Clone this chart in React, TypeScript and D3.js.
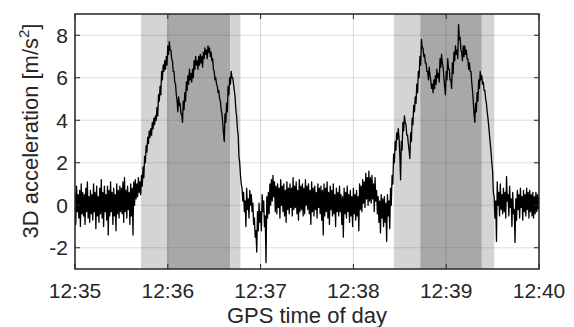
import React from "react";
import * as d3 from "d3";

// ---- data: per-second maximum and minimum of the 3D acceleration (m/s²),
// seconds after 12:35:00 ----
const accelHigh: number[] = [
  0.6, 0.9, 0.5, 0.7, 1.0, 0.6, 0.5, 0.8, 1.1, 0.4,
  0.7, 0.5, 1.0, 0.6, 0.9, 0.4, 0.8, 1.2, 0.6, 0.9,
  0.5, 0.9, 0.7, 1.1, 0.6, 0.8, 0.5, 1.0, 0.7, 0.9,
  0.8, 1.1, 1.3, 0.7, 0.9, 0.6, 1.0, 0.8, 1.1, 1.2,
  1.0, 1.3, 1.1, 1.4, 1.8, 2.3, 2.8, 3.2, 3.5, 3.6,
  3.9, 4.1, 4.2, 4.6, 5.2, 5.6, 6.3, 6.6, 6.8, 7.0,
  7.5, 7.7, 7.3, 6.8, 6.3, 5.7, 4.9, 5.1, 4.8, 4.3,
  4.9, 5.3, 5.8, 6.1, 6.4, 6.2, 6.4, 6.8, 7.0, 6.8,
  7.0, 7.1, 7.0, 7.2, 7.4, 7.3, 7.5, 7.4, 7.2, 6.9,
  6.3, 6.0, 5.6, 5.4, 4.9, 4.3, 3.4, 4.3, 4.8, 5.6,
  6.0, 6.3, 6.0, 5.4, 4.5, 3.6, 2.3, 1.4, 0.8, 0.6,
  0.2, 0.8, 0.3, 0.7, 0.5, 0.1, -0.6, -1.2, -0.3, 0.1,
  -0.3, 0.5, 0.2, -0.5, 0.4, 0.6, 1.0, 1.2, 1.4, 1.1,
  0.9, 1.0, 0.8, 1.2, 0.9, 1.0, 0.7, 1.1, 0.8, 1.0,
  0.8, 1.3, 0.9, 1.1, 0.7, 1.2, 0.9, 1.0, 0.8, 1.2,
  0.9, 1.0, 0.7, 1.1, 0.8, 0.9, 0.6, 1.0, 0.8, 0.9,
  0.7, 1.0, 0.8, 1.1, 0.6, 0.9, 0.7, 1.0, 0.5, 0.8,
  0.6, 0.9, 0.5, 0.4, 0.8, 0.6, 0.9, 0.5, 0.7, 0.4,
  0.8, 0.5, 0.7, 0.4, 1.0, 0.9, 1.2, 1.1, 1.5, 1.3,
  1.6, 1.3, 1.4, 1.0, 1.3, 0.7, 0.4, 0.2, 0.5, 0.3,
  0.4, 0.1, 0.5, 0.2, 0.8, 1.4, 2.4, 3.0, 3.4, 3.6,
  2.4, 3.0, 3.9, 4.2, 3.8, 3.3, 2.6, 3.4, 4.1, 4.7,
  5.1, 5.7, 6.3, 7.0, 7.8, 7.4, 7.1, 6.7, 6.3, 6.5,
  5.9, 5.7, 5.9, 6.1, 6.4, 6.2, 6.9, 7.1, 6.5, 5.6,
  6.3, 6.9, 6.4, 5.9, 6.7, 7.2, 7.5, 7.3, 8.5, 7.9,
  7.2, 7.5, 7.5, 7.3, 6.9, 6.7, 6.3, 5.4, 4.3, 4.8,
  5.3, 5.9, 6.3, 6.1, 5.8, 5.4, 4.8, 4.1, 3.3, 2.5,
  1.6, 0.4, 0.2, 1.1, 0.6, 1.0, 0.5, 0.8, 0.6, 1.35,
  0.5, 0.9, 0.3, 0.6, -0.2, 0.3, 0.7, 0.5, 0.8, 0.4,
  0.7, 0.5, 0.8, 0.6, 0.7, 0.5, 0.6, 0.4, 0.6, 0.5,
  0.4,
];
const accelLow: number[] = [
  -0.9, -0.3, -0.6, -1.0, -0.4, -0.5, -0.9, -0.3, -0.6, -0.8,
  -0.4, -0.7, -0.3, -1.1, -0.5, -0.8, -0.4, -0.6, -1.0, -0.3,
  -0.7, -1.4, -0.5, -0.3, -0.9, -0.5, -1.2, -0.4, -0.6, -0.3,
  -0.4, -0.8, -0.3, -0.6, -0.2, -0.9, -0.5, -1.4, 0.0, 0.3,
  0.4, 0.6, 0.5, 0.9, 1.3, 2.0, 2.5, 2.9, 3.2, 3.3,
  3.6, 3.8, 4.0, 4.2, 4.9, 5.2, 5.9, 6.3, 6.4, 6.6,
  7.1, 7.3, 6.9, 6.3, 5.8, 5.2, 4.4, 4.7, 4.3, 3.9,
  4.5, 4.9, 5.4, 5.7, 5.9, 5.8, 6.0, 6.4, 6.6, 6.4,
  6.6, 6.7, 6.5, 6.9, 7.1, 6.9, 7.2, 7.0, 6.8, 6.4,
  5.9, 5.7, 5.3, 5.0, 4.5, 3.9, 3.0, 3.9, 4.4, 5.2,
  5.7, 6.0, 5.7, 5.1, 4.2, 3.3, 2.0, 1.0, 0.2, -0.3,
  -1.0, -0.2, -0.6, 0.0, -0.3, -0.9, -1.5, -2.2, -1.2, -0.8,
  -1.2, -0.3, -1.0, -2.7, -0.6, -0.4, 0.0, 0.2, 0.4, -0.3,
  -0.4, -0.1, -0.6, 0.0, -0.3, -0.5, -0.8, -0.2, -0.4, -0.1,
  -0.5, -0.2, -0.1, -0.4, -0.7, -0.3, -0.2, -0.5, -0.4, 0.0,
  -0.2, -0.4, -0.9, -0.3, -0.5, -0.2, -0.6, -0.1, -0.4, -0.7,
  -1.4, -0.5, -0.3, -0.6, -0.9, -0.2, -0.5, -0.4, -1.0, -0.3,
  -0.5, -0.3, -0.9, -1.5, -0.4, -0.6, -0.3, -0.8, -0.5, -1.0,
  -0.4, -0.7, -0.5, -1.2, -0.2, -0.3, 0.1, -0.1, 0.3, 0.0,
  0.2, 0.1, 0.3, -0.3, 0.2, -0.4, -0.8, -1.3, -0.6, -1.0,
  -0.8, -1.7, -0.5, -1.1, 0.0, 1.0, 2.0, 2.6, 3.1, 3.2,
  1.2, 2.6, 3.5, 3.9, 3.3, 2.9, 2.2, 3.0, 3.8, 4.4,
  4.8, 5.3, 6.0, 6.6, 7.4, 7.0, 6.7, 6.3, 5.9, 6.1,
  5.5, 5.3, 5.5, 5.7, 6.0, 5.8, 6.5, 6.7, 6.0, 5.2,
  5.9, 6.4, 5.9, 5.5, 6.2, 6.8, 7.1, 6.9, 7.8, 7.3,
  6.8, 7.0, 7.1, 6.9, 6.4, 6.3, 5.8, 4.9, 3.9, 4.4,
  4.9, 5.5, 5.9, 5.7, 5.4, 5.0, 4.4, 3.7, 2.9, 2.0,
  0.6, -0.6, -1.7, 0.0, -0.5, -0.2, -0.4, -0.3, -0.6, 0.2,
  -0.5, -0.1, -1.0, -0.4, -1.75, -0.7, -0.2, -0.6, -0.1, -0.7,
  -0.3, -0.5, -0.2, -0.6, -0.3, -0.5, -0.6, -0.4, -0.3, -0.2,
  0.1,
];
const sampleStepSeconds = 1;

// shaded phases (seconds after 12:35:00)
const lightBands: [number, number][] = [[42.7, 106.9], [206.2, 271.1]];
const darkBands: [number, number][] = [[59.6, 100.2], [223.3, 262.9]];

const yTicks = [-2, 0, 2, 4, 6, 8];
const xTickMinutes = [35, 36, 37, 38, 39, 40];

const W = 574, H = 327;
const M = { left: 75, right: 539, top: 14, bottom: 269 };
const TXT = "#262626";
const FONT = "'Liberation Sans', Arial, Helvetica, sans-serif";

const t0 = new Date(2020, 0, 1, 12, 35, 0);
const at = (s: number) => new Date(t0.getTime() + s * 1000);

// min/max decimated trace: max then min within each second
const trace: [number, number][] = [];
accelHigh.forEach((h, i) => {
  trace.push([i * sampleStepSeconds, h]);
  trace.push([(i + 0.5) * sampleStepSeconds, accelLow[i]]);
});

export default function App() {
  const x = d3.scaleTime().domain([at(0), at(300)]).range([M.left, M.right]);
  const y = d3.scaleLinear().domain([-3, 9]).range([M.bottom, M.top]);
  const xTicks = xTickMinutes.map((m) => new Date(2020, 0, 1, 12, m, 0));
  const fmt = d3.timeFormat("%H:%M");

  const line = d3
    .line<[number, number]>()
    .x((d) => x(at(d[0])))
    .y((d) => y(d[1]));

  const band = (b: [number, number], fill: string, k: string) => (
    <rect
      key={k}
      x={x(at(b[0]))}
      width={x(at(b[1])) - x(at(b[0]))}
      y={M.top}
      height={M.bottom - M.top}
      fill={fill}
    />
  );

  return (
    <div style={{ position: "absolute", left: 0, top: 0 }}>
      <svg width={W} height={H} style={{ display: "block", background: "#fff" }}>
        <defs>
          <clipPath id="plot">
            <rect x={M.left} y={M.top} width={M.right - M.left} height={M.bottom - M.top} />
          </clipPath>
        </defs>
        {lightBands.map((b, i) => band(b, "#d4d4d4", "l" + i))}
        {darkBands.map((b, i) => band(b, "#a8a8a8", "d" + i))}
        <g stroke="#262626" strokeOpacity={0.15} strokeWidth={1.2}>
          {yTicks.map((v) => (
            <line key={"gy" + v} x1={M.left} x2={M.right} y1={y(v)} y2={y(v)} />
          ))}
          {xTicks.map((d, i) => (
            <line key={"gx" + i} x1={x(d)} x2={x(d)} y1={M.top} y2={M.bottom} />
          ))}
        </g>
        <path
          d={line(trace) || ""}
          fill="none"
          stroke="#000"
          strokeWidth={1.3}
          strokeLinejoin="round"
          clipPath="url(#plot)"
        />
        <g stroke={TXT} strokeWidth={1}>
          {yTicks.map((v) => (
            <g key={"ty" + v}>
              <line x1={M.left} x2={M.left + 5} y1={y(v)} y2={y(v)} />
              <line x1={M.right} x2={M.right - 5} y1={y(v)} y2={y(v)} />
            </g>
          ))}
          {xTicks.map((d, i) => (
            <g key={"tx" + i}>
              <line x1={x(d)} x2={x(d)} y1={M.bottom} y2={M.bottom - 5} />
              <line x1={x(d)} x2={x(d)} y1={M.top} y2={M.top + 5} />
            </g>
          ))}
        </g>
        <rect
          x={M.left}
          y={M.top}
          width={M.right - M.left}
          height={M.bottom - M.top}
          fill="none"
          stroke={TXT}
          strokeWidth={1.5}
        />
        <g fill={TXT} fontFamily={FONT} fontSize={21}>
          {yTicks.map((v) => (
            <text key={"ly" + v} x={M.left - 7} y={y(v)} dy="0.36em" textAnchor="end">
              {v}
            </text>
          ))}
          {xTicks.map((d, i) => (
            <text key={"lx" + i} x={x(d)} y={298} textAnchor="middle">
              {fmt(d)}
            </text>
          ))}
        </g>
        <text
          x={(M.left + M.right) / 2}
          y={323}
          textAnchor="middle"
          fill={TXT}
          fontFamily={FONT}
          fontSize={22}
        >
          GPS time of day
        </text>
        <text
          transform={`translate(38,131) rotate(-90)`}
          textAnchor="middle"
          fill={TXT}
          fontFamily={FONT}
          fontSize={22}
        >
          3D acceleration [m/s
          <tspan fontSize={15} dy={-9}>2</tspan>
          <tspan dy={9}>]</tspan>
        </text>
      </svg>
    </div>
  );
}
